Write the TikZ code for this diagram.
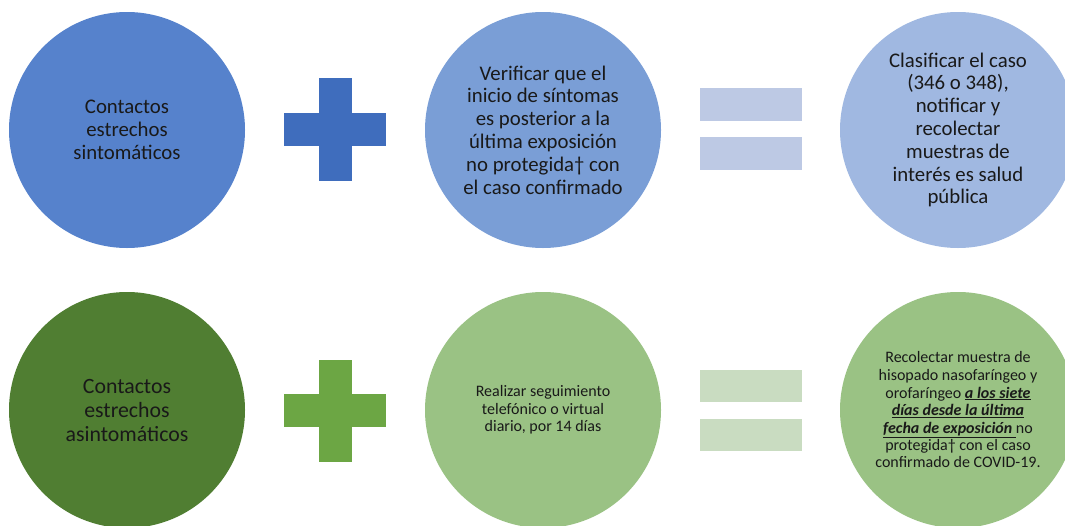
\documentclass[tikz,border=0pt]{standalone}
\usepackage{fontspec}
\setmainfont{Carlito}
\tikzset{
  bubble/.style={circle, minimum size=236pt, inner sep=0pt, align=center, text=black!90},
  bigtext/.style={font=\fontsize{20.8}{22.8}\selectfont},
  smalltext/.style={font=\fontsize{16}{17.5}\selectfont},
}
\definecolor{bluedark}{HTML}{5682CC}
\definecolor{blueplus}{HTML}{3F6DBD}
\definecolor{bluemid}{HTML}{7A9ED6}
\definecolor{blueeq}{HTML}{BDC9E4}
\definecolor{bluelight}{HTML}{A0B8E1}
\definecolor{greendark}{HTML}{507E32}
\definecolor{greenplus}{HTML}{6CA644}
\definecolor{greenmid}{HTML}{9AC284}
\definecolor{greeneq}{HTML}{C9DCC1}
\begin{document}
\begin{tikzpicture}[x=1pt, y=-1pt]
    \useasboundingbox (0,0) rectangle (1065,525);
    \clip (0,0) rectangle (1065,525);
    % top row
    \node[bubble, bigtext, fill=bluedark] (sinto) at (127, 130) {Contactos\\estrechos\\sintom\'aticos};
    \fill[blueplus] (284, 113) rectangle (386, 146);
    \fill[blueplus] (319, 78) rectangle (352, 181);
    \node[bubble, bigtext, fill=bluemid] (verif) at (543, 130) {Verificar que el\\inicio de s\'intomas\\es posterior a la\\\'ultima exposici\'on\\no protegida† con\\el caso confirmado};
    \fill[blueeq] (700, 88) rectangle (802, 121);
    \fill[blueeq] (700, 137) rectangle (802, 170);
    \node[bubble, bigtext, fill=bluelight] (clasif) at (958, 130) {Clasificar el caso\\(346 o 348),\\notificar y\\recolectar\\muestras de\\inter\'es es salud\\p\'ublica};

    % bottom row
    \node[bubble, font=\fontsize{21.8}{24}\selectfont, fill=greendark] (asinto) at (127, 410) {Contactos\\estrechos\\asintom\'aticos};
    \fill[greenplus] (284, 394) rectangle (386, 427);
    \fill[greenplus] (319, 360) rectangle (352, 462);
    \node[bubble, smalltext, fill=greenmid] (segui) at (543, 410) {Realizar seguimiento\\telef\'onico o virtual\\diario, por 14 d\'ias};
    \fill[greeneq] (700, 370) rectangle (802, 402);
    \fill[greeneq] (700, 419) rectangle (802, 451);
    \node[bubble, smalltext, fill=greenmid] (muestra) at (958, 410) {Recolectar muestra de\\hisopado nasofar\'ingeo y\\orofar\'ingeo \textbf{\textit{\underline{a los siete}}}\\\textbf{\textit{\underline{d\'ias desde la \'ultima}}}\\\textbf{\textit{\underline{fecha de exposici\'on\ }}}no\\protegida† con el caso\\confirmado de COVID-19.};
\end{tikzpicture}
\end{document}
